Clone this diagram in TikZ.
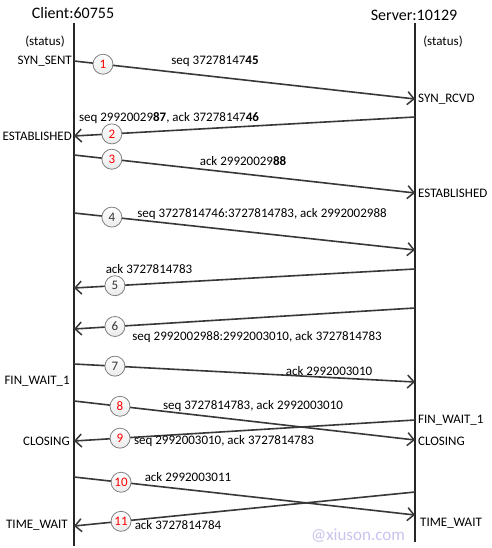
\documentclass[tikz,border=0pt]{standalone}
\usepackage{fontspec}
\setmainfont{Carlito}
\usetikzlibrary{arrows.meta}
\definecolor{msg}{HTML}{383838}
\definecolor{wm}{HTML}{C8C4EE}
\tikzset{
  lbl/.style={inner sep=0pt, font=\fontsize{13}{15}\selectfont},
  ttl/.style={inner sep=0pt, font=\fontsize{16}{18}\selectfont},
  life/.style={draw=black!85, line width=1.1pt},
  msgline/.style={draw=msg, line width=1.6pt, -{Straight Barb[length=6.5pt,width=13pt,line width=1.5pt]}},
  num/.style={circle, minimum size=20pt, inner sep=0pt, draw=black!50, line width=0.8pt,
    top color=white, bottom color=black!8, font=\fontsize{13}{15}\selectfont},
  rednum/.style={num, text=red},
  blacknum/.style={num, text=black!80}
}
\begin{document}
\begin{tikzpicture}[x=1pt,y=-1pt]
\useasboundingbox[fill=white] (0,0) rectangle (491,548);
% lifelines
\coordinate (ctop) at (74,23); \coordinate (cbot) at (74,546);
\coordinate (stop) at (415,23); \coordinate (sbot) at (415,542);
\draw[life] (ctop) -- (cbot);
\draw[life] (stop) -- (sbot);
% titles
\node[ttl] (client) at (73,13) {Client:60755};
\node[ttl] (server) at (414,15) {Server:10129};
\node[lbl] (stc) at (45,42) {(status)};
\node[lbl] (sts) at (443,42) {(status)};
% endpoints
\coordinate (c1) at (74,61);  \coordinate (s1) at (415,99);
\coordinate (s2) at (415,117); \coordinate (c2) at (74,136);
\coordinate (c3) at (74,155); \coordinate (s3) at (415,193);
\coordinate (c4) at (74,213); \coordinate (s4) at (415,250);
\coordinate (s5) at (415,269); \coordinate (c5) at (74,288);
\coordinate (s6) at (415,308); \coordinate (c6) at (74,329);
\coordinate (c7) at (74,364); \coordinate (s7) at (415,382);
\coordinate (c8) at (74,401); \coordinate (s8) at (415,440);
\coordinate (s9) at (415,420); \coordinate (c9) at (74,441);
\coordinate (c10) at (74,477); \coordinate (s10) at (415,515);
\coordinate (s11) at (415,492); \coordinate (c11) at (74,526);
% messages
\draw[msgline] (c1) -- (s1) node[rednum,pos=0.085] (n1) {1};
\draw[msgline] (s2) -- (c2) node[rednum,pos=0.889] (n2) {2};
\draw[msgline] (c3) -- (s3) node[rednum,pos=0.111] (n3) {3};
\draw[msgline] (c4) -- (s4) node[blacknum,pos=0.111] (n4) {4};
\draw[msgline] (s5) -- (c5) node[blacknum,pos=0.880] (n5) {5};
\draw[msgline] (s6) -- (c6) node[blacknum,pos=0.880] (n6) {6};
\draw[msgline] (c7) -- (s7) node[blacknum,pos=0.120] (n7) {7};
\draw[msgline] (c8) -- (s8) node[rednum,pos=0.135] (n8) {8};
\draw[msgline] (s9) -- (c9) node[rednum,pos=0.865] (n9) {9};
\draw[msgline] (c10) -- (s10) node[rednum,pos=0.138] (n10) {10};
\draw[msgline] (s11) -- (c11) node[rednum,pos=0.862] (n11) {11};
% message labels
\node[lbl] (m1) at (215,61) {seq 37278147\textbf{45}};
\node[lbl] (m2) at (169,118) {seq 29920029\textbf{87}, ack 37278147\textbf{46}};
\node[lbl] (m3) at (243,161) {ack 29920029\textbf{88}};
\node[lbl] (m4) at (262,214) {seq 3727814746:3727814783, ack 2992002988};
\node[lbl] (m5) at (149,269) {ack 3727814783};
\node[lbl] (m6) at (257,337) {seq 2992002988:2992003010, ack 3727814783};
\node[lbl] (m7) at (329,371) {ack 2992003010};
\node[lbl] (m8) at (253,406) {seq 3727814783, ack 2992003010};
\node[lbl] (m9) at (224,441) {seq 2992003010, ack 3727814783};
\node[lbl] (m10) at (188,477) {ack 2992003011};
\node[lbl] (m11) at (178,525) {ack 3727814784};
% states
\node[lbl,anchor=east] (synsent) at (72,61) {SYN\_SENT};
\node[lbl,anchor=west] (synrcvd) at (418,99) {SYN\_RCVD};
\node[lbl,anchor=east] (estc) at (72,136) {ESTABLISHED};
\node[lbl,anchor=west] (ests) at (418,193) {ESTABLISHED};
\node[lbl,anchor=east] (finc) at (70,381) {FIN\_WAIT\_1};
\node[lbl,anchor=west] (fins) at (418,420) {FIN\_WAIT\_1};
\node[lbl,anchor=east] (closc) at (70,441) {CLOSING};
\node[lbl,anchor=west] (closs) at (418,441) {CLOSING};
\node[lbl,anchor=east] (twc) at (68,525) {TIME\_WAIT};
\node[lbl,anchor=west] (tws) at (420,523) {TIME\_WAIT};
% watermark
\node[inner sep=0pt, text=wm, font=\fontsize{17}{19}\selectfont] (wmark) at (358,536) {@xiuson.com};
\end{tikzpicture}
\end{document}
